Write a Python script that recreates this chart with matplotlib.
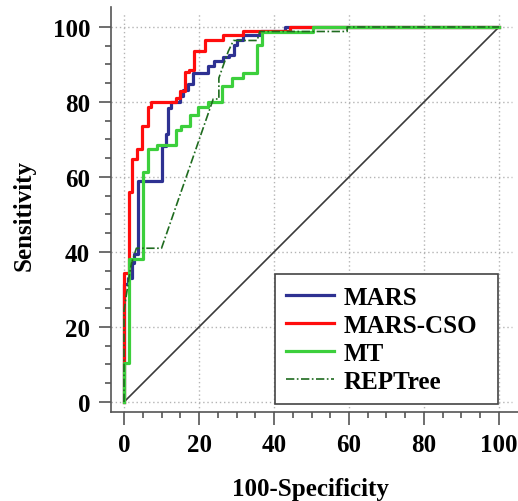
import matplotlib
matplotlib.use("Agg")
import matplotlib.pyplot as plt

# ROC corner points (100-specificity, sensitivity)
mars_x = [0, 0, 1.0, 2.0, 2.6, 3.6, 10.2, 11.1, 11.7, 12.6, 14.8, 15.8, 17.0, 18.4,
          22.4, 24.0, 26.5, 28.0, 29.2, 30.1, 31.8, 36.5, 42.9, 100]
mars_y = [0, 31.5, 33.0, 37.0, 39.5, 59.0, 68.2, 71.5, 78.5, 80.0, 81.5, 83.2, 84.8, 87.7,
          89.7, 91.0, 92.0, 92.6, 95.3, 96.6, 97.8, 98.8, 100, 100]

cso_x = [0, 0, 1.3, 2.2, 3.5, 4.8, 6.4, 7.2, 13.9, 15.0, 16.3, 17.3, 18.7, 21.6,
         26.5, 31.7, 44.3, 100]
cso_y = [0, 34.4, 56.1, 64.8, 67.5, 73.6, 78.6, 80.1, 81.1, 82.8, 87.9, 88.6, 93.7, 96.4,
         97.9, 98.8, 100, 100]

mt_x = [0, 0, 1.4, 5.1, 6.3, 8.7, 13.9, 15.1, 17.6, 19.8, 22.5, 26.0, 28.8, 31.8,
        35.4, 36.7, 50.5, 100]
mt_y = [0, 10.3, 38.1, 61.2, 67.5, 68.5, 72.6, 73.6, 76.4, 78.6, 80.1, 84.3, 86.4, 87.7,
        95.1, 98.7, 100, 100]

rep_x = [0, 0, 1.3, 2.0, 3.3, 10.0, 23.8, 25.3, 25.3, 27.8, 29.2, 35.5, 36.2, 59.5, 59.5, 100]
rep_y = [0, 24.4, 33.0, 37.0, 41.0, 41.0, 80.8, 80.8, 86.4, 93.5, 96.4, 96.4, 98.8, 98.8, 100, 100]

ref_x = [0, 100]
ref_y = [0, 100]

major_ticks = [0, 20, 40, 60, 80, 100]
minor_ticks = [v for v in range(0, 101, 5) if v % 20]

plt.rcParams["font.family"] = ["Liberation Serif", "DejaVu Serif"]
plt.rcParams["font.weight"] = "bold"
plt.rcParams["font.size"] = 18

fig = plt.figure(figsize=(5.18, 5.02), dpi=100)
ax = fig.add_axes([111 / 518, 89 / 502, 407 / 518, 405 / 502])
x0, x1 = -3.47, 105.07
y0, y1 = -2.67, 105.33
ax.set_xlim(x0, x1)
ax.set_ylim(y0, y1)

# dotted grid, stopping a little short of the axes end like the original
ax.hlines(major_ticks, x0, 103.5, colors="#b4b4b4", linestyles=(0, (1, 2)), lw=1, zorder=0)
ax.vlines(major_ticks, y0, 103.5, colors="#b4b4b4", linestyles=(0, (1, 2)), lw=1, zorder=0)

ax.plot(ref_x, ref_y, color="#3a3a3a", lw=1.2, zorder=1)
ax.plot(mars_x, mars_y, drawstyle="steps-post", color="#2e3192", lw=2.3, label="MARS", zorder=2)
ax.plot(cso_x, cso_y, drawstyle="steps-post", color="#ff0d0d", lw=2.3, label="MARS-CSO", zorder=3)
ax.plot(mt_x, mt_y, drawstyle="steps-post", color="#3ccf3c", lw=2.3, label="MT", zorder=4)
ax.plot(rep_x, rep_y, color="#1f6b1f", lw=1.2, ls=(0, (5, 1.5, 1, 1.5)), label="REPTree", zorder=5)

for side in ("top", "right"):
    ax.spines[side].set_visible(False)
for side in ("left", "bottom"):
    ax.spines[side].set_color("#555555")
    ax.spines[side].set_linewidth(1.2)

ax.set_xticks(major_ticks)
ax.set_yticks(major_ticks)
ax.set_xticks(minor_ticks, minor=True)
ax.set_yticks(minor_ticks, minor=True)
ax.tick_params(which="major", direction="out", length=9, width=1.2, color="#555555", pad=6)
ax.tick_params(which="minor", direction="out", length=4.5, width=1.2, color="#555555")

ax.set_xlabel("100-Specificity", fontweight="bold")
ax.set_ylabel("Sensitivity", fontweight="bold")
ax.xaxis.set_label_coords(0.489, -0.16)
ax.yaxis.set_label_coords(-0.185, 0.487)

# legend box spans roughly x 40..100, y -0.5..35.5 in data units
leg = ax.legend(loc="lower left", bbox_to_anchor=(40.3, -0.5, 59.4, 36.0),
                bbox_transform=ax.transData, mode="expand",
                borderaxespad=0, fancybox=False, framealpha=1, edgecolor="#444444",
                handlelength=1.9, handletextpad=0.4, labelspacing=0.2, borderpad=0.45)
leg.get_frame().set_linewidth(1.2)

fig.savefig("out.png", dpi=100)
